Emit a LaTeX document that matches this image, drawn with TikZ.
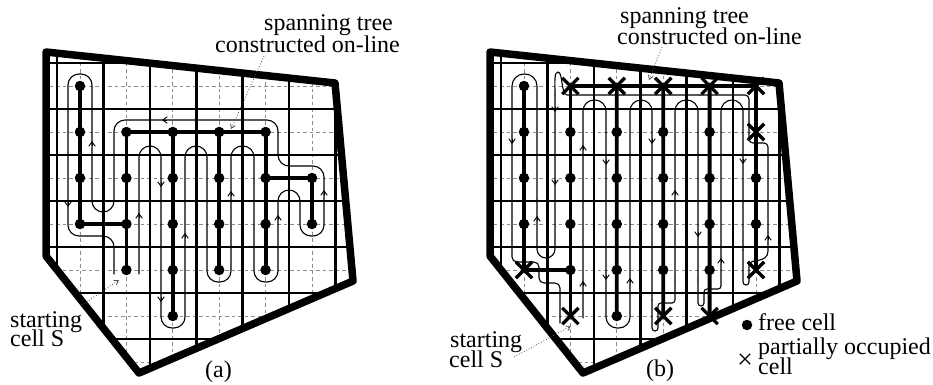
\documentclass[tikz,border=0pt]{standalone}
\usepackage{fontspec}
\setmainfont{Liberation Serif}
\usetikzlibrary{arrows.meta,shapes.misc}
\begin{document}
\begin{tikzpicture}[x=1pt,y=-1pt,
  gridline/.style={line width=2.6pt},
  dashline/.style={line width=0.8pt, black!45, dash pattern=on 3.5pt off 3pt},
  treeedge/.style={line width=3.8pt},
  border/.style={line width=7.5pt, line join=round},
  covpath/.style={line width=1.1pt, line cap=round},
  pathmark/.style={line width=0.9pt, -{Straight Barb[length=4.5pt,width=6.5pt]}},
  freedot/.style={circle, fill, inner sep=0pt, minimum size=10.5pt},
  xcell/.style={cross out, draw, line width=3.3pt, inner sep=0pt, minimum size=13pt},
  legx/.style={cross out, draw, line width=1.3pt, inner sep=0pt, minimum size=9pt},
  ptr/.style={dotted, line width=0.8pt, black!70, -{Straight Barb[length=4pt,width=5pt]}},
  lbl/.style={font=\fontsize{24}{20}\selectfont, inner sep=0pt, anchor=base west},
]
\useasboundingbox (0,0) rectangle (933,384);

% ---------- grids of both panels ----------
\foreach \dx in {0,444}{
  \begin{scope}[xshift=\dx]
    \clip (46,52) -- (335,83) -- (353,281) -- (139,373) -- (46,256) -- cycle;
    \foreach \i in {-1,...,6} \draw[dashline] ({80+46.4*\i},30) -- ({80+46.4*\i},390);
    \foreach \j in {-1,...,6} \draw[dashline] (30,{86+46*\j}) -- (380,{86+46*\j});
    \foreach \k in {0,...,6} \draw[gridline] ({57+46.4*\k},30) -- ({57+46.4*\k},390);
    \foreach \k in {0,...,7} \draw[gridline] (30,{63+46*\k}) -- (380,{63+46*\k});
  \end{scope}
}

% ---------- panel (a): coverage path ----------
\draw[covpath, rounded corners=11pt] (139,274) -- (139,146) -- (161,146) -- (161,328) -- (185,328)
  -- (185,146) -- (207,146) -- (207,282) -- (231,282) -- (231,146) -- (254,146) -- (254,282)
  -- (278,282) -- (278,190) -- (300,190) -- (300,236) -- (324,236) -- (324,166) -- (278,166)
  -- (278,120) -- (114,120) -- (114,212) -- (92,212) -- (92,74) -- (68,74) -- (68,236)
  -- (114,236) -- (114,274);

% arrows on path (a)
\foreach \x/\y in {92/143, 231/193, 324/192, 139/215, 185/235, 278/217}
  \draw[pathmark] (\x,{\y+3}) -- (\x,{\y-2});
\foreach \x/\y in {68/205, 161/185, 161/300}
  \draw[pathmark] (\x,{\y-3}) -- (\x,{\y+2});
\draw[pathmark] (167,120) -- (162,120);

% ---------- panel (a): tree ----------
\foreach \i/\ja/\jb in {0/0/3, 1/1/4, 2/1/5, 3/1/4, 4/1/4, 5/2/3}
  \foreach \j in {\ja,...,\jb}
    \node[freedot] (a\i\j) at ({80+46.4*\i},{86+46*\j}) {};
\draw[treeedge] (a00.center) -- (a03.center);
\draw[treeedge] (a03.center) -- (a13.center);
\draw[treeedge] (a11.center) -- (a14.center);
\draw[treeedge] (a11.center) -- (a41.center);
\draw[treeedge] (a21.center) -- (a25.center);
\draw[treeedge] (a31.center) -- (a34.center);
\draw[treeedge] (a41.center) -- (a44.center);
\draw[treeedge] (a42.center) -- (a52.center);
\draw[treeedge] (a52.center) -- (a53.center);

% ---------- panel (b): coverage path ----------
\draw[covpath, rounded corners=11pt] (583,318) -- (583,100) -- (606,100) -- (606,328) -- (630,328)
  -- (630,100) -- (652,100) -- (652,300);
\draw[covpath, rounded corners=3pt] (652,300) -- (652,331) -- (658,331) -- (658,303) -- (675,303) -- (675,280);
\draw[covpath, rounded corners=11pt] (675,280) -- (675,100) -- (698,100) -- (698,280);
\draw[covpath, rounded corners=3pt] (698,280) -- (698,306) -- (704,306) -- (704,289) -- (721,289) -- (721,270);
\draw[covpath, rounded corners=11pt] (721,270) -- (721,100) -- (743,100) -- (743,250);
\draw[covpath, rounded corners=3pt] (743,250) -- (743,285) -- (749,285) -- (749,268)
  .. controls (749,258) and (768,264) .. (768,248) -- (768,200);
\draw[covpath, rounded corners=4pt] (768,200) -- (768,143) -- (749,143) -- (749,95) -- (700,95);
\draw[covpath] (700,95) -- (567,95) .. controls (561,95) and (563,72) .. (558,72)
  .. controls (554,72) and (555,82) .. (555,95);
\draw[covpath, rounded corners=9pt] (555,95) -- (555,258) -- (537,258) -- (537,200);
\draw[covpath, rounded corners=12pt] (537,200) -- (537,74) -- (512,74) -- (512,240);
\draw[covpath, rounded corners=5pt] (512,240) -- (512,262) -- (539,262) -- (539,283) -- (560,283) -- (560,323);

% arrows on path (b)
\foreach \x/\y in {583/283, 583/147, 630/280, 537/218, 675/192, 721/260, 768/237}
  \draw[pathmark] (\x,{\y+3}) -- (\x,{\y-2});
\foreach \x/\y in {512/142, 555/110, 555/183, 606/163, 606/278, 652/142, 698/235, 743/162}
  \draw[pathmark] (\x,{\y-3}) -- (\x,{\y+2});

% ---------- panel (b): tree ----------
\node[freedot] (b00) at (524,86) {};
\foreach \i in {1,...,5} \node[xcell] (b\i0) at ({524+46.4*\i},86) {};
\foreach \i in {0,...,4} \node[freedot] (b\i1) at ({524+46.4*\i},132) {};
\node[xcell] (b51) at (756,132) {};
\foreach \i in {0,...,5} \node[freedot] (b\i2) at ({524+46.4*\i},178) {};
\foreach \i in {0,...,5} \node[freedot] (b\i3) at ({524+46.4*\i},224) {};
\node[xcell] (b04) at (524,270) {};
\foreach \i in {1,...,4} \node[freedot] (b\i4) at ({524+46.4*\i},270) {};
\node[xcell] (b54) at (756,270) {};
\node[xcell] (b15) at (570.4,316) {};
\node[freedot] (b25) at (616.8,316) {};
\node[xcell] (b35) at (663.2,316) {};
\node[xcell] (b45) at (709.6,316) {};
\draw[treeedge] (b00.center) -- (b04.center);
\draw[treeedge] (b04.center) -- (b14.center);
\draw[treeedge] (b10.center) -- (b50.center);
\draw[treeedge] (b10.center) -- (b15.center);
\draw[treeedge] (b20.center) -- (b25.center);
\draw[treeedge] (b30.center) -- (b35.center);
\draw[treeedge] (b40.center) -- (b45.center);
\draw[treeedge] (b50.center) -- (b54.center);

% ---------- borders ----------
\foreach \dx in {0,444}
  \draw[border, xshift=\dx] (46,52) -- (335,83) -- (353,281) -- (139,373) -- (46,256) -- cycle;

% ---------- labels ----------
\node[lbl] (tA1) at (264,30) {spanning tree};
\node[lbl] (tA2) at (215,52) {constructed on-line};
\node[lbl] (sA1) at (10,327) {starting};
\node[lbl] (sA2) at (10,346) {cell S};
\node[lbl] (capA) at (205,377) {(a)};
\node[lbl] (tB1) at (620,23) {spanning tree};
\node[lbl] (tB2) at (617,44) {constructed on-line};
\node[lbl] (sB1) at (450,347) {starting};
\node[lbl] (sB2) at (449,367) {cell S};
\node[lbl] (capB) at (646,376) {(b)};

\coordinate (pA1s) at (264,56); \coordinate (pA1e) at (231,129);
\coordinate (pA2s) at (82,305); \coordinate (pA2e) at (119,280);
\coordinate (pB1s) at (662,47); \coordinate (pB1e) at (649,80);
\coordinate (pB2s) at (514,357); \coordinate (pB2e) at (571,326);
\draw[ptr] (pA1s) -- (pA1e);
\draw[ptr] (pA2s) -- (pA2e);
\draw[ptr] (pB1s) -- (pB1e);
\draw[ptr] (pB2s) -- (pB2e);

% ---------- legend ----------
\node[freedot] (legdot) at (747,325) {};
\node[lbl] (legfree) at (758,330) {free cell};
\node[legx] (legcross) at (745,359) {};
\node[lbl] (legpart1) at (758,354) {partially occupied};
\node[lbl] (legpart2) at (758,374) {cell};
\end{tikzpicture}
\end{document}
